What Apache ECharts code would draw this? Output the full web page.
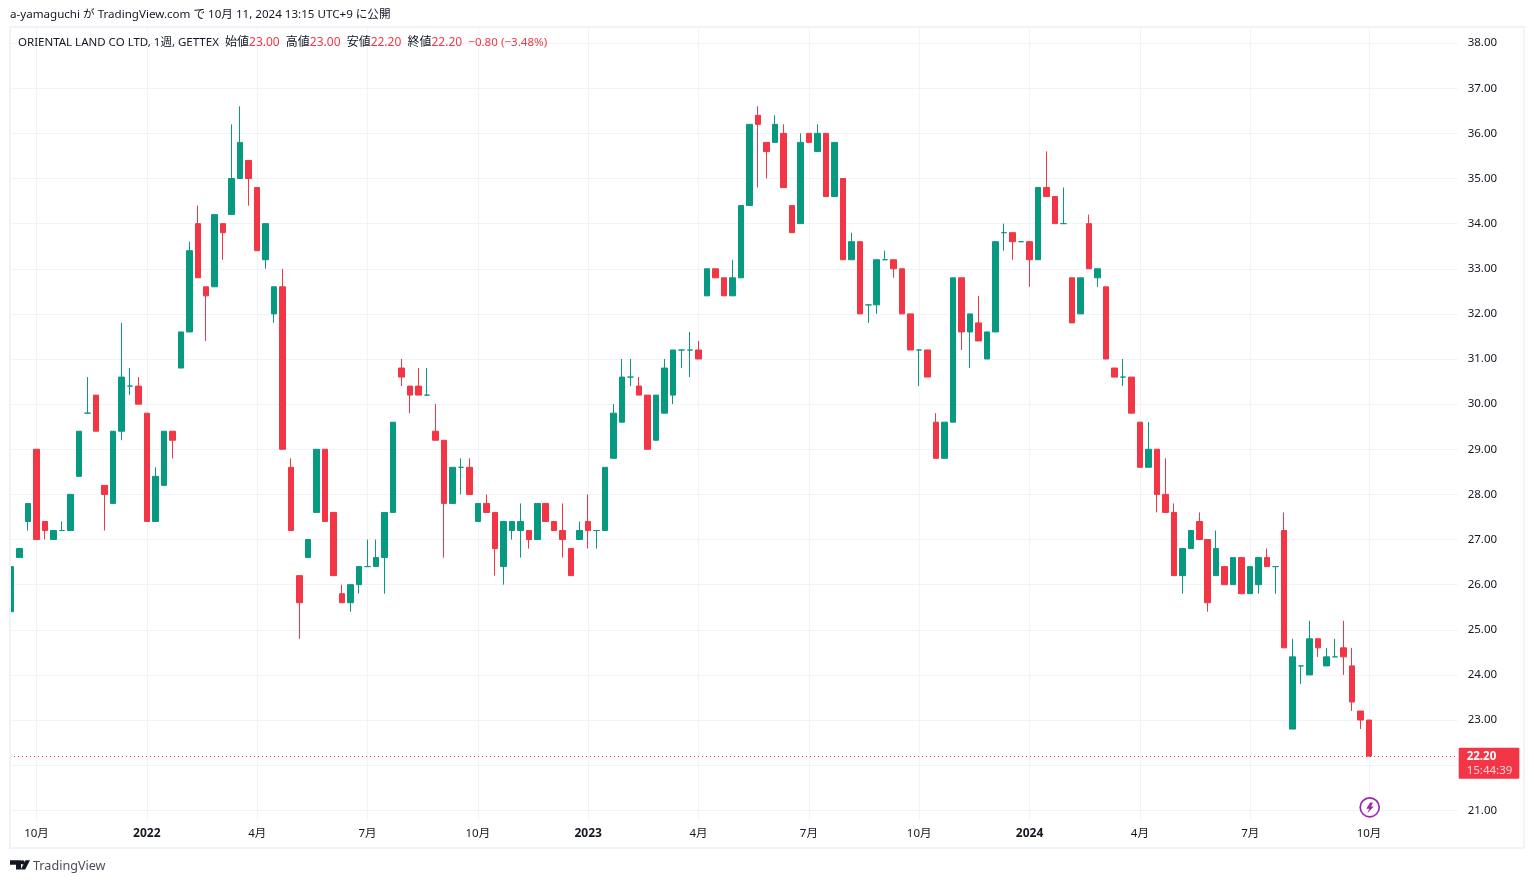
<!DOCTYPE html>
<html><head><meta charset="utf-8">
<style>html,body{margin:0;padding:0;background:#fff}#c{width:1534px;height:883px}</style>
<script src="https://cdn.jsdelivr.net/npm/echarts@6/dist/echarts.min.js"></script>
</head><body><div id="c"></div>
<script>
const opens=[25.4,26.6,27.4,29,27.4,27,27.2,27.2,28.4,29.8,30.2,28.2,27.8,29.4,30.4,30.4,29.8,27.4,28.2,29.4,30.8,31.6,34,32.6,32.6,34,34.2,35,35.4,34.8,33.2,32,32.6,28.6,26.2,26.6,27.6,29,27.6,25.8,25.6,26,26.4,26.4,26.6,27.6,30.8,30.4,30.4,30.2,29.4,29.2,27.8,28.6,28.6,27.4,27.8,27.6,26.4,27.2,27.2,27.2,27,27.8,27.4,27.2,26.8,27,27.4,27.2,27.2,28.8,29.6,30.6,30.4,30.2,29.2,29.8,30.2,31.2,31.2,31.2,32.4,33,32.8,32.4,32.8,34.4,36.4,35.8,35.8,36,34.4,34,36,35.6,36,34.6,35,33.2,33.6,32.2,32.2,33.2,33.2,33,32,31.2,31.2,29.6,28.8,29.6,32.8,31.6,31.8,31,31.6,33.8,33.8,33.6,33.6,33.2,34.8,34.6,34,32.8,32,34,32.8,32.6,30.8,30.6,30.6,29.6,28.6,29,28,27.6,26.2,26.8,27.4,27,26.2,26.4,26,26.6,25.8,26,26.6,26.4,27.2,22.8,24.2,24,24.8,24.2,24.4,24.6,24.2,23.2,23];
const closes=[26.4,26.8,27.8,27,27.2,27.2,27.2,28,29.4,29.8,29.4,28,29.4,30.6,30.4,30,27.4,28.4,29.4,29.2,31.6,33.4,32.8,32.4,34.2,33.8,35,35.8,35,33.4,34,32.6,29,27.2,25.6,27,29,27.4,26.2,25.6,26,26.4,26.4,26.6,27.6,29.6,30.6,30.2,30.2,30.2,29.2,27.8,28.6,28.6,28,27.8,27.6,26.8,27.4,27.4,27.4,27,27.8,27.4,27.2,27,26.2,27.2,27.2,27.2,28.6,29.8,30.6,30.6,30.2,29,30.2,30.8,31.2,31.2,31.2,31,33,32.8,32.4,32.8,34.4,36.2,36.2,35.6,36.2,34.8,33.8,35.8,35.8,36,34.6,35.8,33.2,33.6,32,32.2,33.2,33.2,33,32,31.2,31.2,30.6,28.8,29.6,32.8,31.6,32,31.4,31.6,33.6,33.8,33.6,33.6,33.2,34.8,34.6,34,34,31.8,32.8,33,33,31,30.6,30.6,29.8,28.6,29,28,27.6,26.2,26.8,27.2,27,25.6,26.8,26,26.6,25.8,26.4,26.6,26.4,26.4,24.6,24.4,24.2,24.8,24.6,24.4,24.4,24.4,23.4,23,22.2];
const lows=[25.4,26.6,27.2,27,27,27,27.2,27.2,28.4,29.8,29.4,27.2,27.8,29.2,30.2,30,27.4,27.4,28.2,28.8,30.8,31.6,32.8,31.4,32.6,33.2,34.2,35,34.4,33.4,33,31.8,29,27.2,24.8,26.6,27.6,27.4,26.2,25.6,25.4,25.8,26.4,26.4,25.8,27.6,30.4,29.8,30.2,30.2,29.2,26.6,27.8,28,28,27.4,27.6,26.2,26,27,26.6,26.8,27,27.4,27.2,26.6,26.2,27,26.8,26.8,27.2,28.8,29.6,30.4,30.2,29,29.2,29.8,30,30.8,30.6,31,32.4,32.8,32.4,32.4,32.8,34.4,34.8,35,35.8,34.8,33.8,34,35.8,35.6,34.6,34.6,33.2,33.2,32,31.8,32,33.2,32.8,32,31.2,30.4,30.6,28.8,28.8,29.6,31.2,30.8,31.4,31,31.6,33.4,33.2,33.6,32.6,33.2,34.6,34,34,31.8,32,33,32.6,31,30.6,30.4,29.8,28.6,28.6,27.6,27.6,26.2,25.8,26.8,27,25.4,26.2,26,26,25.8,25.8,25.8,26.4,25.8,24.6,22.8,23.8,24,24.4,24.2,24.4,24,23.2,22.8,22.2];
const highs=[26.4,26.8,27.8,29,27.4,27.2,27.4,28,29.4,30.6,30.2,28.2,29.4,31.8,30.8,30.6,29.8,28.6,29.4,29.4,31.6,33.6,34.4,32.6,34.2,34,36.2,36.6,35.4,34.8,34,32.6,33,28.8,26.2,27,29,29,27.6,26,26,26.4,27,27,27.6,29.6,31,30.4,30.8,30.8,30,29.2,28.6,28.8,28.8,27.8,28,27.6,27.4,27.4,27.8,27.2,27.8,27.8,27.4,27.8,26.8,27.4,28,27.2,28.6,30,31,31,30.6,30.2,30.2,31,31.2,31.2,31.6,31.4,33,33,32.8,33.2,34.4,36.2,36.6,35.8,36.4,36.2,34.4,36,36,36.2,36,35.8,35,33.8,33.6,32.2,33.2,33.4,33.2,33,32,31.2,31.2,29.8,29.6,32.8,32.8,32,32.4,31.6,33.6,34,33.8,33.6,33.6,34.8,35.6,34.6,34.8,32.8,32.8,34.2,33,32.6,30.8,31,30.6,29.6,29.6,29,28.8,27.8,26.8,27.2,27.6,27,27.2,26.4,26.6,26.6,26.4,26.6,26.8,26.4,27.6,24.8,24.2,25.2,24.8,24.6,24.8,25.2,24.6,23.2,23];
const tickIndex=[3,16,29,42,55,68,81,94,107,120,133,146,160];
const tickLabels=['10月','2022','4月','7月','10月','2023','4月','7月','10月','2024','4月','7月','10月'];
const priceTicks=[21,22,23,24,25,26,27,28,29,30,31,32,33,34,35,36,37,38];
const lastPrice=22.2;
const countdown='15:44:39';
const headerText='a-yamaguchi が TradingView.com で 10月 11, 2024 13:15 UTC+9 に公開';
const symbolText='ORIENTAL LAND CO LTD, 1週, GETTEX';
const ohlcText=[['始値','23.00'],['高値','23.00'],['安値','22.20'],['終値','22.20']];
const changeText='−0.80 (−3.48%)';

const UP='#089981',DOWN='#F23645',INK='#131722',GRID='#F0F3FA';
const FONT='"Noto Sans","Noto Sans CJK JP",sans-serif';
const chart=echarts.init(document.getElementById('c'),null,{renderer:'canvas'});
const candles=opens.map((o,i)=>[i,o,closes[i],lows[i],highs[i]]);
let legend='{s|'+symbolText+'}';
ohlcText.forEach(p=>{legend+='{g|  }{k|'+p[0]+'}{v|'+p[1]+'}';});
legend+='{g|  }{c|'+changeText+'}';

chart.setOption({
  animation:false,
  backgroundColor:'#fff',
  grid:{left:10,right:76.3,top:28,bottom:63},
  xAxis:{type:'value',min:-0.1225,max:170.45,
    axisLine:{show:false},
    axisTick:{show:false,customValues:tickIndex},
    splitLine:{show:true,lineStyle:{color:GRID,width:1}},
    axisLabel:{customValues:tickIndex,margin:8,fontFamily:FONT,fontSize:11.5,color:INK,
      formatter:v=>{const s=tickLabels[tickIndex.indexOf(v)];return /^\d{4}$/.test(s)?'{b|'+s+'}':s;},
      rich:{b:{fontFamily:FONT,fontSize:12,fontWeight:'bold',color:INK}}}},
  yAxis:{type:'value',min:20.785,max:38.335,scale:true,position:'right',
    axisLine:{show:false},
    axisTick:{show:false,customValues:priceTicks},
    splitLine:{show:true,lineStyle:{color:GRID,width:1}},
    axisLabel:{customValues:priceTicks,margin:10,fontFamily:FONT,fontSize:11.5,color:INK,
      formatter:v=>v.toFixed(2)}},
  series:[{type:'candlestick',data:candles,encode:{x:0,y:[1,2,3,4]},barWidth:6,
    itemStyle:{color:UP,color0:DOWN,borderColor:UP,borderColor0:DOWN,borderColorDoji:UP,borderWidth:1},
    markLine:{silent:true,symbol:'none',animation:false,
      lineStyle:{color:DOWN,type:[1,3],width:1},
      label:{show:true,position:'end',distance:1,offset:[0,7],align:'left',
        backgroundColor:DOWN,borderRadius:1,padding:[2,7,1,8],
        formatter:()=>'{p|'+lastPrice.toFixed(2)+'}\n{t|'+countdown+'}',
        rich:{p:{color:'#fff',fontFamily:FONT,fontSize:11.5,fontWeight:'bold',lineHeight:14},
              t:{color:'#FBD5D9',fontFamily:FONT,fontSize:11.5,lineHeight:14}}},
      data:[{yAxis:lastPrice}]}}],
  graphic:[
    {type:'rect',z:100,shape:{x:0,y:27,width:9,height:821},style:{fill:'#fff'}},
    {type:'rect',z:101,shape:{x:10,y:27,width:1514,height:821},style:{fill:'none',stroke:GRID,lineWidth:2}},
    {type:'text',x:10,y:15,style:{text:headerText,fontFamily:FONT,fontSize:11.6,fill:INK,textVerticalAlign:'middle'}},
    {type:'text',x:18,y:42.5,z:10,style:{text:legend,textVerticalAlign:'middle',fontFamily:FONT,fontSize:11.5,
      rich:{s:{fontFamily:FONT,fontSize:11.5,fill:INK},
            g:{fontFamily:FONT,fontSize:11.8,fill:INK},
            k:{fontFamily:FONT,fontSize:12,fill:INK},
            v:{fontFamily:FONT,fontSize:12,fill:DOWN},
            c:{fontFamily:FONT,fontSize:11.6,fill:DOWN}}}},
    {type:'circle',z:50,shape:{cx:1369.7,cy:807.3,r:9.5},style:{fill:'#fff',stroke:'#9C27B0',lineWidth:1.7}},
    {type:'polygon',z:51,shape:{points:[[1370.2,802.4],[1373,802.4],[1371,806.6],[1373.8,806.6],[1367.4,813.2],[1369.3,808.8],[1366.2,808.8]]},style:{fill:'#9C27B0'}},
    {type:'polygon',shape:{points:[[10,860.3],[21,860.3],[21,869.6],[16,869.6],[16,864.8],[10,864.8]]},style:{fill:INK}},
    {type:'circle',shape:{cx:22.6,cy:862.4,r:2.1},style:{fill:INK}},
    {type:'polygon',shape:{points:[[25.5,860.3],[30,860.3],[25.2,869.6],[20.8,869.6]]},style:{fill:INK}},
    {type:'text',x:33,y:866,style:{text:'TradingView',fontFamily:FONT,fontSize:12.6,fill:'#4A4E59',textVerticalAlign:'middle'}}
  ]
});
</script></body></html>
